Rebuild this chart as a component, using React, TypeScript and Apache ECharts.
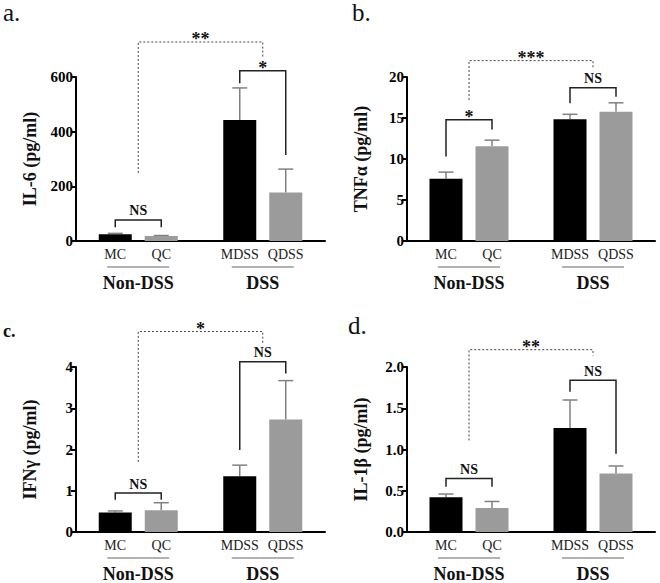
import React, { useEffect, useRef } from 'react';
import * as echarts from 'echarts';

// ---------- data ----------
const groups = ['Non-DSS', 'DSS'];
const mLabels = ['MC', 'MDSS'];
const qLabels = ['QC', 'QDSS'];
const panelLetters = ['a.', 'b.', 'c.', 'd.'];
const yTitles = ['IL-6 (pg/ml)', 'TNFα (pg/ml)', 'IFNγ (pg/ml)', 'IL-1β (pg/ml)'];
const yMaxes = [600, 20, 4, 2];
const ySteps = [200, 5, 1, 0.5];
const yDecimals = [0, 0, 0, 1];

// means and upper error limits (mean + SEM)
const il6M = [25, 443];
const il6MUp = [28, 560];
const il6Q = [18, 177];
const il6QUp = [20, 263];

const tnfM = [7.6, 14.85];
const tnfMUp = [8.4, 15.45];
const tnfQ = [11.55, 15.75];
const tnfQUp = [12.3, 16.85];

const ifnM = [0.47, 1.35];
const ifnMUp = [0.51, 1.62];
const ifnQ = [0.53, 2.73];
const ifnQUp = [0.71, 3.67];

const il1M = [0.42, 1.26];
const il1MUp = [0.46, 1.6];
const il1Q = [0.29, 0.71];
const il1QUp = [0.37, 0.8];

// significance brackets: g = group index, s = 'M' | 'Q' | 'G' (group centre)
type Sig = { g1: number; s1: string; g2: number; s2: string; top: number; l: number; r: number; text: string; dashed?: boolean };
const il6Sig: Sig[] = [
  { g1: 0, s1: 'M', g2: 0, s2: 'Q', top: 77, l: 50, r: 50, text: 'NS' },
  { g1: 1, s1: 'M', g2: 1, s2: 'Q', top: 623, l: 577, r: 315, text: '*' },
  { g1: 0, s1: 'G', g2: 1, s2: 'G', top: 728, l: 249, r: 673, text: '**', dashed: true },
];
const tnfSig: Sig[] = [
  { g1: 0, s1: 'M', g2: 0, s2: 'Q', top: 14.8, l: 10.3, r: 13.6, text: '*' },
  { g1: 1, s1: 'M', g2: 1, s2: 'Q', top: 18.7, l: 16.8, r: 17.6, text: 'NS' },
  { g1: 0, s1: 'G', g2: 1, s2: 'G', top: 22, l: 17.2, r: 21.1, text: '***', dashed: true },
];
const ifnSig: Sig[] = [
  { g1: 0, s1: 'M', g2: 0, s2: 'Q', top: 0.945, l: 0.78, r: 0.78, text: 'NS' },
  { g1: 1, s1: 'M', g2: 1, s2: 'Q', top: 4.13, l: 1.99, r: 3.84, text: 'NS' },
  { g1: 0, s1: 'G', g2: 1, s2: 'G', top: 4.86, l: 1.7, r: 4.56, text: '*', dashed: true },
];
const il1Sig: Sig[] = [
  { g1: 0, s1: 'M', g2: 0, s2: 'Q', top: 0.65, l: 0.55, r: 0.55, text: 'NS' },
  { g1: 1, s1: 'M', g2: 1, s2: 'Q', top: 1.84, l: 1.7, r: 0.95, text: 'NS' },
  { g1: 0, s1: 'G', g2: 1, s2: 'G', top: 2.21, l: 1.11, r: 2.14, text: '**', dashed: true },
];

const panels = [
  { m: il6M, mUp: il6MUp, q: il6Q, qUp: il6QUp, sig: il6Sig },
  { m: tnfM, mUp: tnfMUp, q: tnfQ, qUp: tnfQUp, sig: tnfSig },
  { m: ifnM, mUp: ifnMUp, q: ifnQ, qUp: ifnQUp, sig: ifnSig },
  { m: il1M, mUp: il1MUp, q: il1Q, qUp: il1QUp, sig: il1Sig },
];

// ---------- style ----------
const SERIF = 'Liberation Serif';
const BAR_W = 33;
const BAR_GAP = 13;
const OFF = (BAR_W + BAR_GAP) / 2;
const grids = [
  { left: 76, top: 77, width: 249, height: 164 },
  { left: 407, top: 77, width: 248, height: 164 },
  { left: 76, top: 367, width: 249, height: 165 },
  { left: 407, top: 367, width: 248, height: 165 },
];
const letterPos = [
  { x: 3, y: 0, size: 25, weight: 'normal' },
  { x: 352, y: 0, size: 25, weight: 'normal' },
  { x: 3, y: 322, size: 18, weight: 'bold' },
  { x: 348, y: 313, size: 25, weight: 'normal' },
];

function sideOff(s: string) {
  return s === 'M' ? -OFF : s === 'Q' ? OFF : 0;
}

function buildOption() {
  const xAxis: any[] = [];
  const yAxis: any[] = [];
  const series: any[] = [];
  panels.forEach((p, i) => {
    xAxis.push({
      type: 'category',
      gridIndex: i,
      data: groups,
      axisLine: { lineStyle: { color: '#000', width: 2 } },
      axisTick: { alignWithLabel: true, length: 5, lineStyle: { color: '#000', width: 1.5 } },
      axisLabel: { margin: 33, fontFamily: SERIF, fontWeight: 'bold', fontSize: 18, color: '#111' },
    });
    yAxis.push({
      type: 'value',
      gridIndex: i,
      min: 0,
      max: yMaxes[i],
      interval: ySteps[i],
      name: yTitles[i],
      nameLocation: 'middle',
      nameRotate: 90,
      nameGap: 37,
      nameTextStyle: { fontFamily: SERIF, fontWeight: 'bold', fontSize: 18, color: '#111' },
      splitLine: { show: false },
      axisLine: { show: true, lineStyle: { color: '#000', width: 2 } },
      axisTick: { show: true, length: 5, lineStyle: { color: '#000', width: 2 } },
      axisLabel: {
        margin: 3,
        fontFamily: SERIF,
        fontWeight: 'bold',
        fontSize: 15,
        color: '#000',
        formatter: (v: number) => v.toFixed(yDecimals[i]),
      },
    });
    const labelBase = { show: true, position: 'bottom', distance: 6, fontFamily: SERIF, fontSize: 14, color: '#222' };
    series.push({
      type: 'bar',
      name: 'M',
      xAxisIndex: i,
      yAxisIndex: i,
      data: p.m,
      barWidth: BAR_W,
      barGap: (BAR_GAP / BAR_W) * 100 + '%',
      itemStyle: { color: '#000' },
      label: { ...labelBase, formatter: (d: any) => mLabels[d.dataIndex] },
    });
    series.push({
      type: 'bar',
      name: 'Q',
      xAxisIndex: i,
      yAxisIndex: i,
      data: p.q,
      barWidth: BAR_W,
      barGap: (BAR_GAP / BAR_W) * 100 + '%',
      itemStyle: { color: '#9b9b9b' },
      label: { ...labelBase, formatter: (d: any) => qLabels[d.dataIndex] },
    });
    // error bars
    const errData: number[][] = [];
    p.m.forEach((v, g) => errData.push([g, 0, v, p.mUp[g]]));
    p.q.forEach((v, g) => errData.push([g, 1, v, p.qUp[g]]));
    series.push({
      type: 'custom',
      xAxisIndex: i,
      yAxisIndex: i,
      clip: false,
      z: 1,
      data: errData,
      encode: { x: 0, y: 3 },
      renderItem: (_params: any, api: any) => {
        const g = api.value(0);
        const side = api.value(1);
        const base = api.coord([g, api.value(2)]);
        const up = api.coord([g, api.value(3)]);
        const x = base[0] + (side === 0 ? -OFF : OFF);
        const st = { stroke: '#808080', lineWidth: 1.5 };
        return {
          type: 'group',
          children: [
            { type: 'line', shape: { x1: x, y1: base[1], x2: x, y2: up[1] }, style: st },
            { type: 'line', shape: { x1: x - 7.5, y1: up[1], x2: x + 7.5, y2: up[1] }, style: st },
          ],
        };
      },
    });
    // group underline
    series.push({
      type: 'custom',
      xAxisIndex: i,
      yAxisIndex: i,
      clip: false,
      silent: true,
      data: groups.map((_, g) => [g, 0]),
      renderItem: (_params: any, api: any) => {
        const c = api.coord([api.value(0), 0]);
        return {
          type: 'line',
          shape: { x1: c[0] - 31, y1: c[1] + 26, x2: c[0] + 31, y2: c[1] + 26 },
          style: { stroke: '#666', lineWidth: 1 },
        };
      },
    });
    // significance brackets
    series.push({
      type: 'custom',
      xAxisIndex: i,
      yAxisIndex: i,
      clip: false,
      silent: true,
      data: p.sig.map((s) => [s.g1, s.top]),
      renderItem: (params: any, api: any) => {
        const s = p.sig[params.dataIndex];
        const x1 = api.coord([s.g1, 0])[0] + sideOff(s.s1);
        const x2 = api.coord([s.g2, 0])[0] + sideOff(s.s2);
        const yT = api.coord([0, s.top])[1];
        const yL = api.coord([0, s.l])[1];
        const yR = api.coord([0, s.r])[1];
        const isStar = s.text.indexOf('*') >= 0;
        return {
          type: 'group',
          children: [
            {
              type: 'polyline',
              shape: { points: [[x1, yL], [x1, yT], [x2, yT], [x2, yR]] },
              style: s.dashed
                ? { stroke: '#444', lineWidth: 1, fill: 'none', lineDash: [2, 2] }
                : { stroke: '#222', lineWidth: 1.5, fill: 'none' },
            },
            {
              type: 'text',
              x: (x1 + x2) / 2,
              y: isStar ? yT + 6 : yT - 2,
              style: {
                text: s.text,
                fontFamily: SERIF,
                fontWeight: 'bold',
                fontSize: isStar ? 18 : 14,
                fill: '#111',
                align: 'center',
                verticalAlign: 'bottom',
              },
            },
          ],
        };
      },
    });
  });

  const graphic = panelLetters.map((t, i) => ({
    type: 'text',
    x: letterPos[i].x,
    y: letterPos[i].y,
    style: {
      text: t,
      fontFamily: SERIF,
      fontSize: letterPos[i].size,
      fontWeight: letterPos[i].weight,
      fill: '#111',
      align: 'left',
      verticalAlign: 'top',
    },
  }));

  return {
    animation: false,
    backgroundColor: '#fff',
    grid: grids,
    xAxis,
    yAxis,
    series,
    graphic,
  };
}

export default function App() {
  const ref = useRef<HTMLDivElement>(null);
  useEffect(() => {
    if (!ref.current) return;
    const chart = echarts.init(ref.current, undefined, { renderer: 'svg' });
    chart.setOption(buildOption() as any);
    return () => chart.dispose();
  }, []);
  return <div ref={ref} style={{ position: 'fixed', left: 0, top: 0, width: 660, height: 583 }} />;
}
